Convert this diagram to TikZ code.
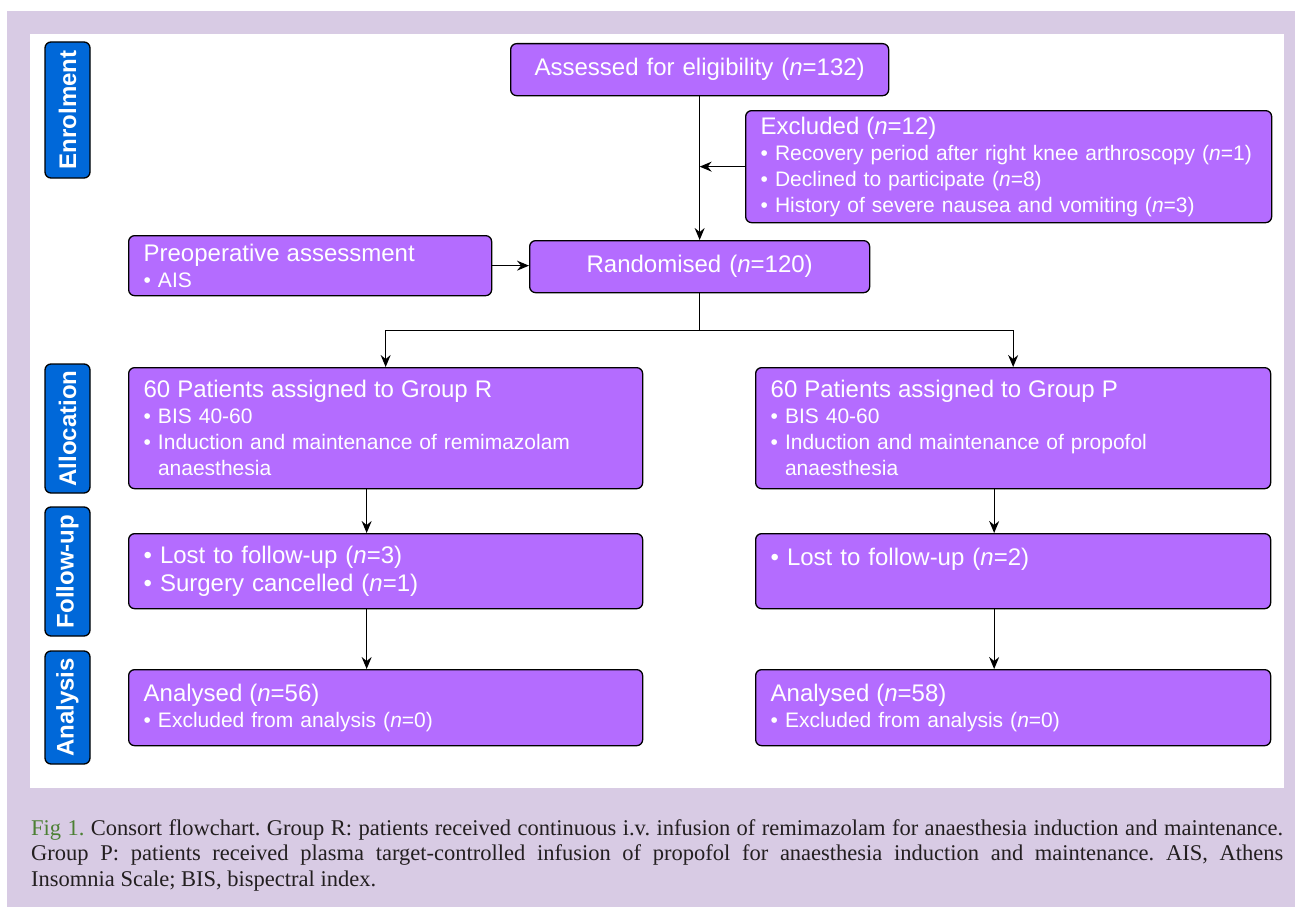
\documentclass[tikz,border=0pt]{standalone}
\usepackage{fontspec}
\setmainfont{Liberation Sans}
\newfontfamily\capfont{Liberation Serif}
\usetikzlibrary{arrows.meta}
\frenchspacing
\tolerance=10000
\hyphenpenalty=10000

\definecolor{lavbg}{RGB}{216,203,228}
\definecolor{boxpurple}{RGB}{180,108,255}
\definecolor{stageblue}{RGB}{0,104,217}
\definecolor{figgreen}{RGB}{76,128,52}
\definecolor{captext}{RGB}{35,31,32}

\newcommand{\bigtxt}{\fontsize{24}{28}\selectfont}
\newcommand{\smalltxt}{\fontsize{21}{26}\selectfont}
\newcommand{\nsym}{\textit{n}}

\tikzset{>={Stealth[length=12pt,width=10pt,inset=4pt]}}
\tikzset{
  flowbox/.style={draw=black, line width=1.3pt, fill=boxpurple, rounded corners=6pt,
    text=white, anchor=north west, inner xsep=15pt, inner ysep=0pt, align=left, font=\smalltxt},
  stagebox/.style={draw=black, line width=1.3pt, fill=stageblue, rounded corners=6pt,
    text=white, rotate=90, minimum height=45pt, inner sep=0pt, font=\bigtxt\bfseries},
  link/.style={line width=1.3pt, ->},
}

\begin{document}
\begin{tikzpicture}[x=1pt, y=-1pt]
 \useasboundingbox (0,0) rectangle (1295,907);

 % Background panels
 \fill[lavbg] (7,11) rectangle (1295,907);
 \fill[white] (30,34) rectangle (1284,788);

 % Stage labels
 \foreach \ypos/\len/\nm/\lab in {110/136pt/enrol/Enrolment, 428.5/129pt/alloc/Allocation,
                                  571.5/129pt/follow/Follow-up, 707.5/113pt/analys/Analysis}{
    \node[stagebox, minimum width=\len] (\nm) at (67.5,\ypos) {\lab};
 }

 % Enrolment
 \node[flowbox, align=center, text width=348pt, minimum height=52pt, font=\bigtxt] (assess) at (510,43)
   {Assessed for eligibility (\nsym=132)};
 \node[flowbox, text width=496pt, minimum height=112pt] (excl) at (745,110)
   {{\bigtxt Excluded (\nsym=12)}\\
    • Recovery period after right knee arthroscopy (\nsym=1)\\
    • Declined to participate (\nsym=8)\\
    • History of severe nausea and vomiting (\nsym=3)};
 \node[flowbox, text width=333pt, minimum height=60pt] (preop) at (128,235)
   {{\bigtxt Preoperative assessment}\\ • AIS};
 \node[flowbox, align=center, text width=310pt, minimum height=52pt, font=\bigtxt] (rand) at (529,240)
   {Randomised (\nsym=120)};

 % Allocation
 \node[flowbox, text width=484pt, minimum height=121pt] (grpR) at (128,367)
   {{\bigtxt 60 Patients assigned to Group R}\\
    • BIS 40-60\\
    • Induction and maintenance of remimazolam\\
    \phantom{• }anaesthesia};
 \node[flowbox, text width=485pt, minimum height=121pt] (grpP) at (755,367)
   {{\bigtxt 60 Patients assigned to Group P}\\
    • BIS 40-60\\
    • Induction and maintenance of propofol\\
    \phantom{• }anaesthesia};

 % Follow-up
 \node[flowbox, text width=484pt, minimum height=75pt, font=\bigtxt] (fuR) at (128,533)
   {• Lost to follow-up (\nsym=3)\\ • Surgery cancelled (\nsym=1)};
 \node[flowbox, text width=485pt, minimum height=75pt, font=\bigtxt] (fuP) at (755,533)
   {• Lost to follow-up (\nsym=2)\\ \mbox{}};

 % Analysis
 \node[flowbox, text width=484pt, minimum height=76pt] (anR) at (128,669)
   {{\bigtxt Analysed (\nsym=56)}\\ • Excluded from analysis (\nsym=0)};
 \node[flowbox, text width=485pt, minimum height=76pt] (anP) at (755,669)
   {{\bigtxt Analysed (\nsym=58)}\\ • Excluded from analysis (\nsym=0)};

 % Connectors
 \draw[link] (assess) -- (rand);
 \draw[link] (excl.west) -- (excl.west -| assess.south);
 \draw[link] (preop.east) -- (preop.east -| rand.west);
 \draw[link] (rand.south) -- ++(0,37) -| (grpR.north);
 \draw[link] (rand.south) -- ++(0,37) -| (grpP.north);
 \foreach \col in {R,P}{
    \draw[link] ([xshift=-19pt]grp\col.south) -- ([xshift=-19pt]fu\col.north);
    \draw[link] ([xshift=-19pt]fu\col.south) -- ([xshift=-19pt]an\col.north);
 }

 % Caption
 \node[anchor=north west, text width=1252pt, align=justify, inner sep=0pt, text=captext,
       font=\capfont\fontsize{22.5}{25.7}\selectfont] (caption) at (31,819)
   {\textcolor{figgreen}{Fig 1.} Consort flowchart. Group R: patients received continuous i.v. infusion of remimazolam for anaesthesia induction and maintenance.\linebreak
    Group P: patients received plasma target-controlled infusion of propofol for anaesthesia induction and maintenance. AIS, Athens\linebreak
    Insomnia Scale; BIS, bispectral index.};

\end{tikzpicture}
\end{document}
